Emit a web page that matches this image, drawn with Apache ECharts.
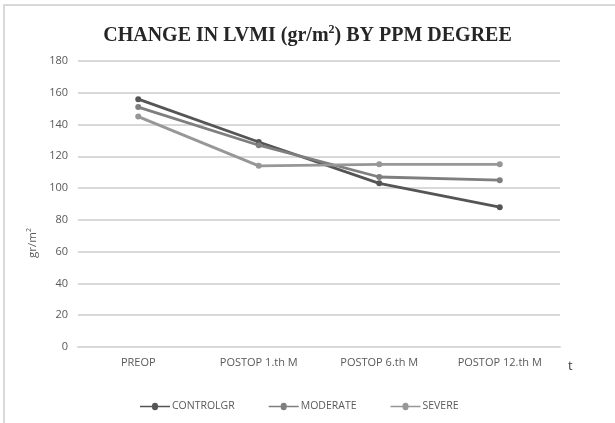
<!DOCTYPE html>
<html>
<head>
<meta charset="utf-8">
<script src="https://cdn.jsdelivr.net/npm/echarts@6/dist/echarts.min.js"></script>
<style>
  html, body { margin: 0; padding: 0; background: #fff; }
  #chart { width: 615px; height: 423px; position: relative; }
  #frame { position: absolute; left: 3px; top: 4px; right: -2px; bottom: -2px;
           border-left: 2px solid #d9d9d9; border-top: 2px solid #d9d9d9; pointer-events: none; }
</style>
</head>
<body>
<div id="chart"></div>
<script>
// Time points and LVMI means per PPM group
const categories = ['PREOP', 'POSTOP 1.th M', 'POSTOP 6.th M', 'POSTOP 12.th M'];
const controlGr = [156, 129, 103, 88];
const moderate = [151, 127, 107, 105];
const severe = [145, 114, 115, 115];
const yTicks = [0, 20, 40, 60, 80, 100, 120, 140, 160, 180];

const chart = echarts.init(document.getElementById('chart'), null, { renderer: 'canvas' });

const labelFont = '"Open Sans", "Liberation Sans", sans-serif';
const serifFont = '"Liberation Serif", "DejaVu Serif", serif';

function lineSeries(name, data, color) {
  return {
    name: name,
    type: 'line',
    data: data,
    symbol: 'circle',
    symbolSize: 6,
    lineStyle: { width: 2.8, color: color },
    itemStyle: { color: color },
    emphasis: { disabled: true },
    z: 3
  };
}

chart.setOption({
  animation: false,
  backgroundColor: '#ffffff',
  title: {
    text: '{t|CHANGE IN LVMI (gr/m}{s|2}{t|) BY PPM DEGREE}',
    left: 'center',
    top: 19,
    textStyle: {
      rich: {
        t: { fontFamily: serifFont, fontWeight: 'bold', fontSize: 20, color: '#262626', lineHeight: 24 },
        s: { fontFamily: serifFont, fontWeight: 'bold', fontSize: 12, color: '#262626', verticalAlign: 'top', lineHeight: 24, padding: [0, 0, 7, 0] }
      }
    }
  },
  grid: { left: 78, right: 55, top: 61, bottom: 76 },
  legend: {
    bottom: 6,
    left: 135,
    itemWidth: 30,
    itemHeight: 8,
    itemGap: 34,
    icon: 'path://M0,3.2 L12,3.2 A3,3 0 0 1 18,3.2 L30,3.2 L30,4.8 L18,4.8 A3,3 0 0 1 12,4.8 L0,4.8 Z',
    textStyle: { fontFamily: labelFont, fontSize: 10.5, color: '#595959', padding: [0, 0, 0, -3] },
    data: ['CONTROLGR', 'MODERATE', 'SEVERE']
  },
  xAxis: {
    type: 'category',
    data: categories,
    boundaryGap: true,
    name: 't',
    nameLocation: 'end',
    nameGap: 8,
    nameTextStyle: { fontFamily: labelFont, fontSize: 13, color: '#404040', verticalAlign: 'top', padding: [13, 0, 0, 0] },
    axisLine: { show: true, lineStyle: { color: '#d9d9d9', width: 2 } },
    axisTick: { show: false },
    axisLabel: { fontFamily: labelFont, fontSize: 11, color: '#595959', margin: 10, interval: 0 },
    splitLine: { show: false }
  },
  yAxis: {
    type: 'value',
    min: yTicks[0],
    max: yTicks[yTicks.length - 1],
    interval: yTicks[1] - yTicks[0],
    name: '{a|gr/m}{b|2}',
    nameLocation: 'middle',
    nameGap: 37,
    nameRotate: 90,
    nameTextStyle: {
      padding: [0, 78, 0, 0],
      rich: {
        a: { fontFamily: labelFont, fontSize: 11.5, color: '#595959', lineHeight: 14 },
        b: { fontFamily: labelFont, fontSize: 7, color: '#595959', verticalAlign: 'top', lineHeight: 14 }
      }
    },
    axisLine: { show: false },
    axisTick: { show: false },
    axisLabel: { fontFamily: labelFont, fontSize: 11, color: '#595959', margin: 10 },
    splitLine: { show: true, lineStyle: { color: '#d9d9d9', width: 2 } }
  },
  series: [
    lineSeries('CONTROLGR', controlGr, '#555555'),
    lineSeries('MODERATE', moderate, '#7f7f7f'),
    lineSeries('SEVERE', severe, '#979797')
  ]
});
</script>
<div id="frame"></div>
</body>
</html>
